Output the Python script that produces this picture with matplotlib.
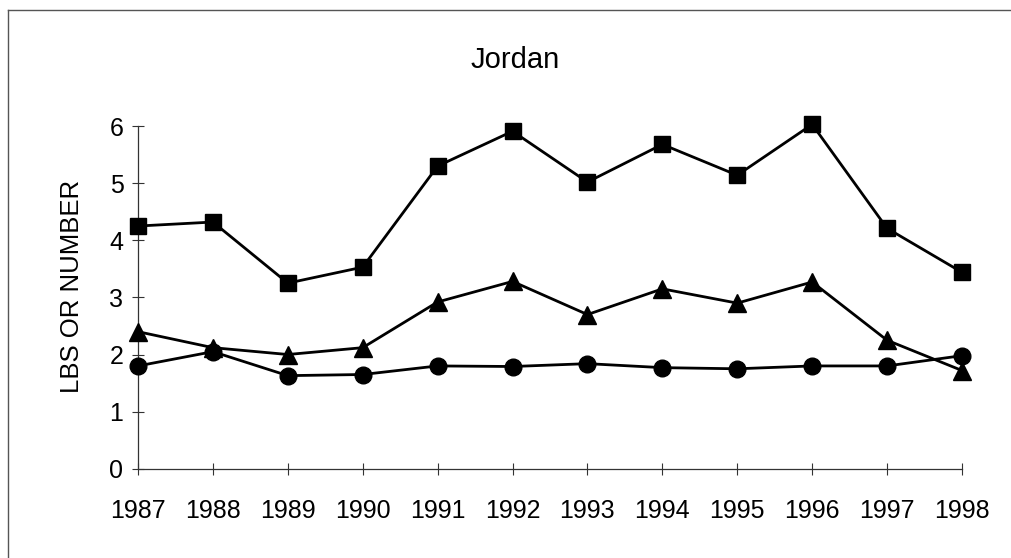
import matplotlib

matplotlib.use("Agg")
import matplotlib.pyplot as plt
from matplotlib.lines import Line2D

plt.rcParams["font.family"] = ["Liberation Sans", "DejaVu Sans"]

YEARS = [1987, 1988, 1989, 1990, 1991, 1992, 1993, 1994, 1995, 1996, 1997, 1998]
SQUARES = [4.25, 4.32, 3.25, 3.53, 5.30, 5.91, 5.02, 5.68, 5.14, 6.03, 4.21, 3.44]
TRIANGLES = [2.40, 2.12, 2.00, 2.12, 2.92, 3.28, 2.70, 3.15, 2.90, 3.27, 2.25, 1.72]
CIRCLES = [1.80, 2.05, 1.63, 1.65, 1.80, 1.79, 1.84, 1.77, 1.75, 1.80, 1.80, 1.98]
YTICKS = [0, 1, 2, 3, 4, 5, 6]

fig = plt.figure(figsize=(10.11, 5.58), dpi=100)
ax = fig.add_axes([0.1365, 0.160, 0.815, 0.614])

for vals, mk, ms in ((SQUARES, "s", 12), (TRIANGLES, "^", 12.5), (CIRCLES, "o", 12)):
    ax.plot(YEARS, vals, color="black", linewidth=2, marker=mk, markersize=ms,
            clip_on=False, zorder=3)

ax.set_xlim(YEARS[0], YEARS[-1])
ax.set_ylim(0, 6)
ax.set_xticks(YEARS)
ax.set_yticks(YTICKS)
for s in ("top", "right"):
    ax.spines[s].set_visible(False)
for s in ("left", "bottom"):
    ax.spines[s].set_color("#333333")
    ax.spines[s].set_linewidth(0.9)
ax.tick_params(direction="inout", length=9, width=0.8, color="#333333",
               labelsize=18, pad=6)
ax.tick_params(axis="x", pad=17)

# y label placed by hand: it sits a bit above the axes centre in the reference
fig.text(72 / 1011, 1 - 286 / 558, "LBS OR NUMBER", rotation=90,
         ha="center", va="center", fontsize=18.5)
fig.text(515 / 1011, 1 - 60 / 558, "Jordan", ha="center", va="center", fontsize=21)

# faint border along top and left of the scanned page
fig.add_artist(Line2D([8 / 1011, 1], [1 - 10 / 558, 1 - 10 / 558], color="#555555",
                      linewidth=1, transform=fig.transFigure))
fig.add_artist(Line2D([8 / 1011, 8 / 1011], [0, 1 - 10 / 558], color="#555555",
                      linewidth=1, transform=fig.transFigure))

fig.savefig("out.png", dpi=100, facecolor="white")
